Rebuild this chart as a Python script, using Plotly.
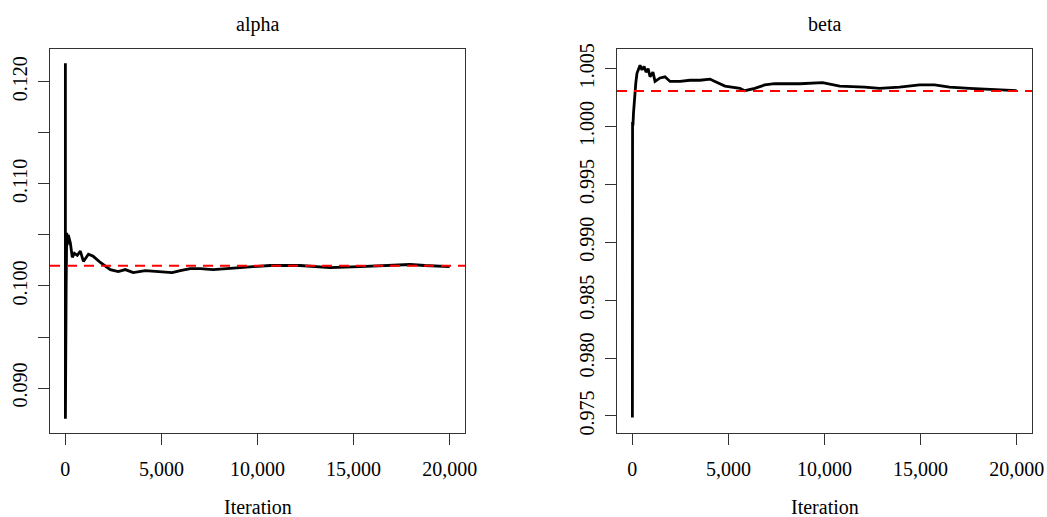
import plotly.graph_objects as go

# ---- data ----
alpha_iter = [1, 2, 5, 10, 20, 40, 70, 100, 150, 260, 360, 470, 620, 780, 940, 1200, 1450,
              1820, 2340, 2750, 3120, 3530, 4160, 4940, 5560, 5980, 6500, 7020, 7690, 9100,
              10650, 12210, 13770, 15330, 16890, 17930, 18710, 19490, 20000]
alpha_val = [0.1218, 0.0870, 0.1035, 0.0995, 0.1048, 0.0998, 0.1052, 0.1040, 0.1050, 0.1042,
             0.1028, 0.1032, 0.1030, 0.1034, 0.1024, 0.1031, 0.1029, 0.1023, 0.1016, 0.1014,
             0.1016, 0.1013, 0.1015, 0.1014, 0.1013, 0.1015, 0.1017, 0.1017, 0.1016, 0.1018,
             0.1020, 0.1020, 0.1018, 0.1019, 0.1020, 0.1021, 0.1020, 0.1019, 0.1019]
alpha_ref = 0.10197

beta_iter = [1, 3, 10, 30, 60, 100, 140, 180, 240, 400, 500, 610, 710, 820, 920, 1070, 1180,
             1440, 1700, 1960, 2480, 3000, 3520, 4040, 4300, 4820, 5600, 5850, 6370, 6890,
             7410, 8710, 9900, 10790, 12090, 12870, 13910, 14950, 15730, 16510, 17550, 18590,
             19370, 20000]
beta_val = [0.97486, 0.9995, 1.0004, 1.0001, 1.0012, 1.0022, 1.0030, 1.0038, 1.0046, 1.0053,
            1.0049, 1.0052, 1.0047, 1.0050, 1.0043, 1.0047, 1.0039, 1.0042, 1.0043, 1.0039,
            1.0039, 1.0040, 1.0040, 1.0041, 1.0039, 1.0035, 1.0033, 1.0031, 1.0033, 1.0036,
            1.0037, 1.0037, 1.0038, 1.0035, 1.0034, 1.0033, 1.0034, 1.0036, 1.0036, 1.0034,
            1.0033, 1.0032, 1.0031, 1.0031]
beta_ref = 1.00307

x_ticks = [0, 5000, 10000, 15000, 20000]
alpha_ticks = [0.090, 0.095, 0.100, 0.105, 0.110, 0.115, 0.120]
alpha_ticktext = ["0.090", "", "0.100", "", "0.110", "", "0.120"]
beta_ticks = [0.975, 0.980, 0.985, 0.990, 0.995, 1.000, 1.005]
beta_ticktext = ["0.975", "0.980", "0.985", "0.990", "0.995", "1.000", "1.005"]

# ---- figure ----
W, H = 1047, 517
FONT = "Liberation Serif"
AX = "#333333"

fig = go.Figure()
fig.add_trace(go.Scatter(x=alpha_iter, y=alpha_val, mode="lines",
                         line=dict(color="black", width=2.8), xaxis="x", yaxis="y",
                         showlegend=False, hoverinfo="skip"))
fig.add_trace(go.Scatter(x=[-800, 20800], y=[alpha_ref, alpha_ref], mode="lines",
                         line=dict(color="#FF0000", width=2, dash="10px,7px"),
                         xaxis="x", yaxis="y", showlegend=False, hoverinfo="skip"))
fig.add_trace(go.Scatter(x=beta_iter, y=beta_val, mode="lines",
                         line=dict(color="black", width=2.8), xaxis="x2", yaxis="y2",
                         showlegend=False, hoverinfo="skip"))
fig.add_trace(go.Scatter(x=[-800, 20800], y=[beta_ref, beta_ref], mode="lines",
                         line=dict(color="#FF0000", width=2, dash="10px,7px"),
                         xaxis="x2", yaxis="y2", showlegend=False, hoverinfo="skip"))

def xaxis(dom, anchor):
    return dict(domain=dom, anchor=anchor, range=[-800, 20800], tickvals=x_ticks,
                tickformat=",d", ticks="outside", ticklen=11, tickcolor=AX, tickwidth=1,
                showline=True, linecolor=AX, linewidth=1, mirror=True, showgrid=False,
                zeroline=False, ticklabelstandoff=7, automargin=False,
                tickfont=dict(family=FONT, size=20, color="black"))

def yaxis(dom, anchor, rng, tv, tt):
    return dict(domain=dom, anchor=anchor, range=rng, tickvals=tv, ticktext=tt,
                tickangle=-90, ticks="outside", ticklen=11, tickcolor=AX, tickwidth=1,
                showline=True, linecolor=AX, linewidth=1, mirror=True, showgrid=False,
                zeroline=False, ticklabelstandoff=3, automargin=False,
                tickfont=dict(family=FONT, size=20, color="black"))

ydom = [1 - 433 / H, 1 - 49 / H]
fig.update_layout(
    template="none",
    width=W, height=H, margin=dict(l=0, r=0, t=0, b=0, pad=0), autosize=False,
    paper_bgcolor="white", plot_bgcolor="white",
    font=dict(family=FONT, size=20, color="black"),
    xaxis=xaxis([50 / W, 465 / W], "y"),
    yaxis=yaxis(ydom, "x", [0.0856, 0.1232], alpha_ticks, alpha_ticktext),
    xaxis2=xaxis([617 / W, 1032 / W], "y2"),
    yaxis2=yaxis(ydom, "x2", [0.97353, 1.0067], beta_ticks, beta_ticktext),
    annotations=[
        dict(text="alpha", x=(50 + 465) / 2 / W, y=1 - 24 / H, xref="paper", yref="paper",
             showarrow=False, font=dict(family=FONT, size=20), xanchor="center", yanchor="middle"),
        dict(text="beta", x=(617 + 1032) / 2 / W, y=1 - 24 / H, xref="paper", yref="paper",
             showarrow=False, font=dict(family=FONT, size=20), xanchor="center", yanchor="middle"),
        dict(text="Iteration", x=(50 + 465) / 2 / W, y=1 - 507 / H, xref="paper", yref="paper",
             showarrow=False, font=dict(family=FONT, size=20), xanchor="center", yanchor="middle"),
        dict(text="Iteration", x=(617 + 1032) / 2 / W, y=1 - 507 / H, xref="paper", yref="paper",
             showarrow=False, font=dict(family=FONT, size=20), xanchor="center", yanchor="middle"),
    ],
)

fig.write_html("out.html")
